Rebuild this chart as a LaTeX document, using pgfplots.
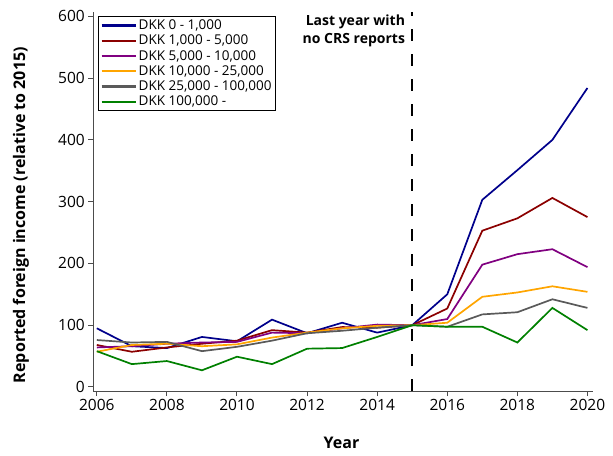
\documentclass[border=0pt]{standalone}
\usepackage{pgfplots}
\pgfplotsset{compat=1.18}
\usepackage{fontspec}
\setmainfont{Open Sans}
\definecolor{cblue}{RGB}{0,0,139}
\definecolor{cred}{RGB}{139,0,0}
\definecolor{cpurple}{RGB}{128,0,128}
\definecolor{corange}{RGB}{255,165,0}
\definecolor{cgray}{RGB}{90,90,90}
\definecolor{cgreen}{RGB}{0,128,0}
\begin{document}
\begin{tikzpicture}
\path[use as bounding box] (-93.3bp,-65bp) rectangle (519.7bp,391bp);
\begin{axis}[
  scale only axis,
  width=499.4bp, height=379bp,
  xmin=2005.9, xmax=2020.15,
  ymin=-6.5, ymax=607,
  axis x line*=bottom, axis y line*=left,
  axis line style={color=black!70, line width=1bp, -},
  tick style={color=black!70, line width=1bp},
  tick align=outside,
  major tick length=5bp,
  xtick={2006,2008,...,2020},
  ytick={0,100,...,600},
  /pgf/number format/1000 sep={},
  /pgf/number format/assume math mode=true,
  tick label style={font=\fontsize{15.5bp}{18bp}\selectfont},
  xlabel={\textbf{Year}},
  ylabel={\textbf{Reported foreign income (relative to 2015)}},
  label style={font=\fontsize{16bp}{19bp}\selectfont},
  xlabel style={at={(axis description cs:0.497,-0.137)}, anchor=center},
  ylabel style={at={(axis description cs:-0.145,0.464)}, anchor=center, rotate=0},
  legend style={at={(axis description cs:0.0094,0.990)}, anchor=north west,
    font=\fontsize{13.5bp}{16bp}\selectfont, draw=black, line width=1bp,
    inner xsep=2bp, inner ysep=1.5bp, row sep=0bp, cells={anchor=west}},
  legend image code/.code={\draw[#1, line width=2.2bp] (0bp,0bp) -- (34bp,0bp);},
  every axis plot/.append style={line width=1.7bp},
  clip=false,
]
\addplot[cblue] coordinates {(2006,95) (2007,66) (2008,63) (2009,81) (2010,74) (2011,109) (2012,87) (2013,104) (2014,88) (2015,100) (2016,150) (2017,303) (2018,351) (2019,400) (2020,484)};
\addplot[cred] coordinates {(2006,68) (2007,57) (2008,64) (2009,70) (2010,75) (2011,92) (2012,88) (2013,97) (2014,96) (2015,100) (2016,127) (2017,253) (2018,273) (2019,306) (2020,275)};
\addplot[cpurple] coordinates {(2006,64) (2007,66) (2008,70) (2009,72) (2010,73) (2011,88) (2012,87) (2013,95) (2014,101) (2015,100) (2016,110) (2017,198) (2018,215) (2019,223) (2020,194)};
\addplot[corange] coordinates {(2006,57) (2007,68) (2008,70) (2009,66) (2010,69) (2011,80) (2012,88) (2013,95) (2014,99) (2015,100) (2016,104) (2017,146) (2018,153) (2019,163) (2020,154)};
\addplot[cgray] coordinates {(2006,76) (2007,72) (2008,73) (2009,58) (2010,65) (2011,75) (2012,87) (2013,91) (2014,96) (2015,100) (2016,97.5) (2017,117.5) (2018,121) (2019,142) (2020,128)};
\addplot[cgreen] coordinates {(2006,58) (2007,37) (2008,42) (2009,27) (2010,49) (2011,37) (2012,62) (2013,63) (2014,81) (2015,100) (2016,97.5) (2017,97.5) (2018,72) (2019,128) (2020,92)};
\legend{{DKK 0 - 1,000}, {DKK 1,000 - 5,000}, {DKK 5,000 - 10,000}, {DKK 10,000 - 25,000}, {DKK 25,000 - 100,000}, {DKK 100,000 -}}
\draw[black, line width=2bp, dash pattern=on 12bp off 13bp] (axis cs:2015,-6.5) -- (axis cs:2015,607);
\node[anchor=north east, align=right, inner sep=0pt, font=\fontsize{14bp}{18bp}\selectfont\bfseries] at (axis cs:2014.8,603) {Last year with\\no CRS reports};
\end{axis}
\end{tikzpicture}
\end{document}
